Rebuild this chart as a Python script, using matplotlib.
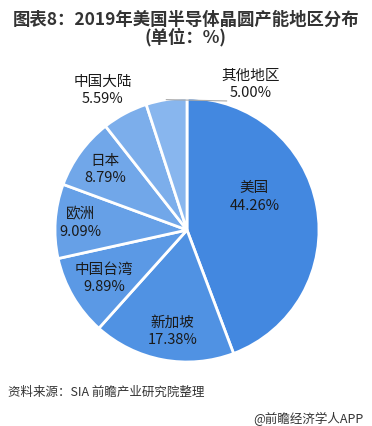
import numpy as np
import matplotlib.pyplot as plt

plt.rcParams['font.family'] = ['Noto Sans CJK SC', 'DejaVu Sans']

regions = ['美国', '新加坡', '中国台湾', '欧洲', '日本', '中国大陆', '其他地区']
shares = [44.26, 17.38, 9.89, 9.09, 8.79, 5.59, 5.00]
colors = ['#4388e0', '#5092e3', '#5b99e5', '#66a0e7', '#71a7e9', '#7caeeb', '#88b6ee']

# label centres in pie units (radius = 1)
label_pos = [(0.51, 0.25), (-0.11, -0.77), (-0.63, -0.37), (-0.81, 0.05),
             (-0.62, 0.46), (-0.64, 1.06), (0.48, 1.10)]

fig = plt.figure(figsize=(3.72, 4.26), dpi=100)
ax = fig.add_axes([0, 46 / 426, 1, 330 / 426])

wedges, _ = ax.pie(shares, colors=colors, startangle=90, counterclock=False,
                   wedgeprops=dict(edgecolor='white', linewidth=2))
ax.set_aspect('auto')
ax.set_xlim(-187 / 132, 185 / 132)
ax.set_ylim(-150 / 132, 180 / 132)

for name, val, (x, y) in zip(regions, shares, label_pos):
    ax.text(x, y, f'{name}\n{val:.2f}%', ha='center', va='center',
            fontsize=10.5, color='#1a1a1a', linespacing=1.3)

# leader line for the last slice
w = wedges[-1]
mid = np.deg2rad((w.theta1 + w.theta2) / 2)
ax.plot([np.cos(mid), 0.3], [np.sin(mid), np.sin(mid) - 0.01], color='#aaaaaa', lw=0.8)

fig.text(0.5, 1 - 20 / 426, '图表8：2019年美国半导体晶圆产能地区分布', ha='center', va='center',
         fontsize=12.5, fontweight='bold', color='#333333')
fig.text(0.5, 1 - 37 / 426, '(单位：%)', ha='center', va='center',
         fontsize=12.5, fontweight='bold', color='#333333')
fig.text(8 / 372, 1 - 392 / 426, '资料来源：SIA 前瞻产业研究院整理', ha='left', va='center',
         fontsize=9, color='#333333')
fig.text(363 / 372, 1 - 419 / 426, '@前瞻经济学人APP', ha='right', va='center',
         fontsize=9, color='#333333')

fig.savefig('out.png', dpi=100)
